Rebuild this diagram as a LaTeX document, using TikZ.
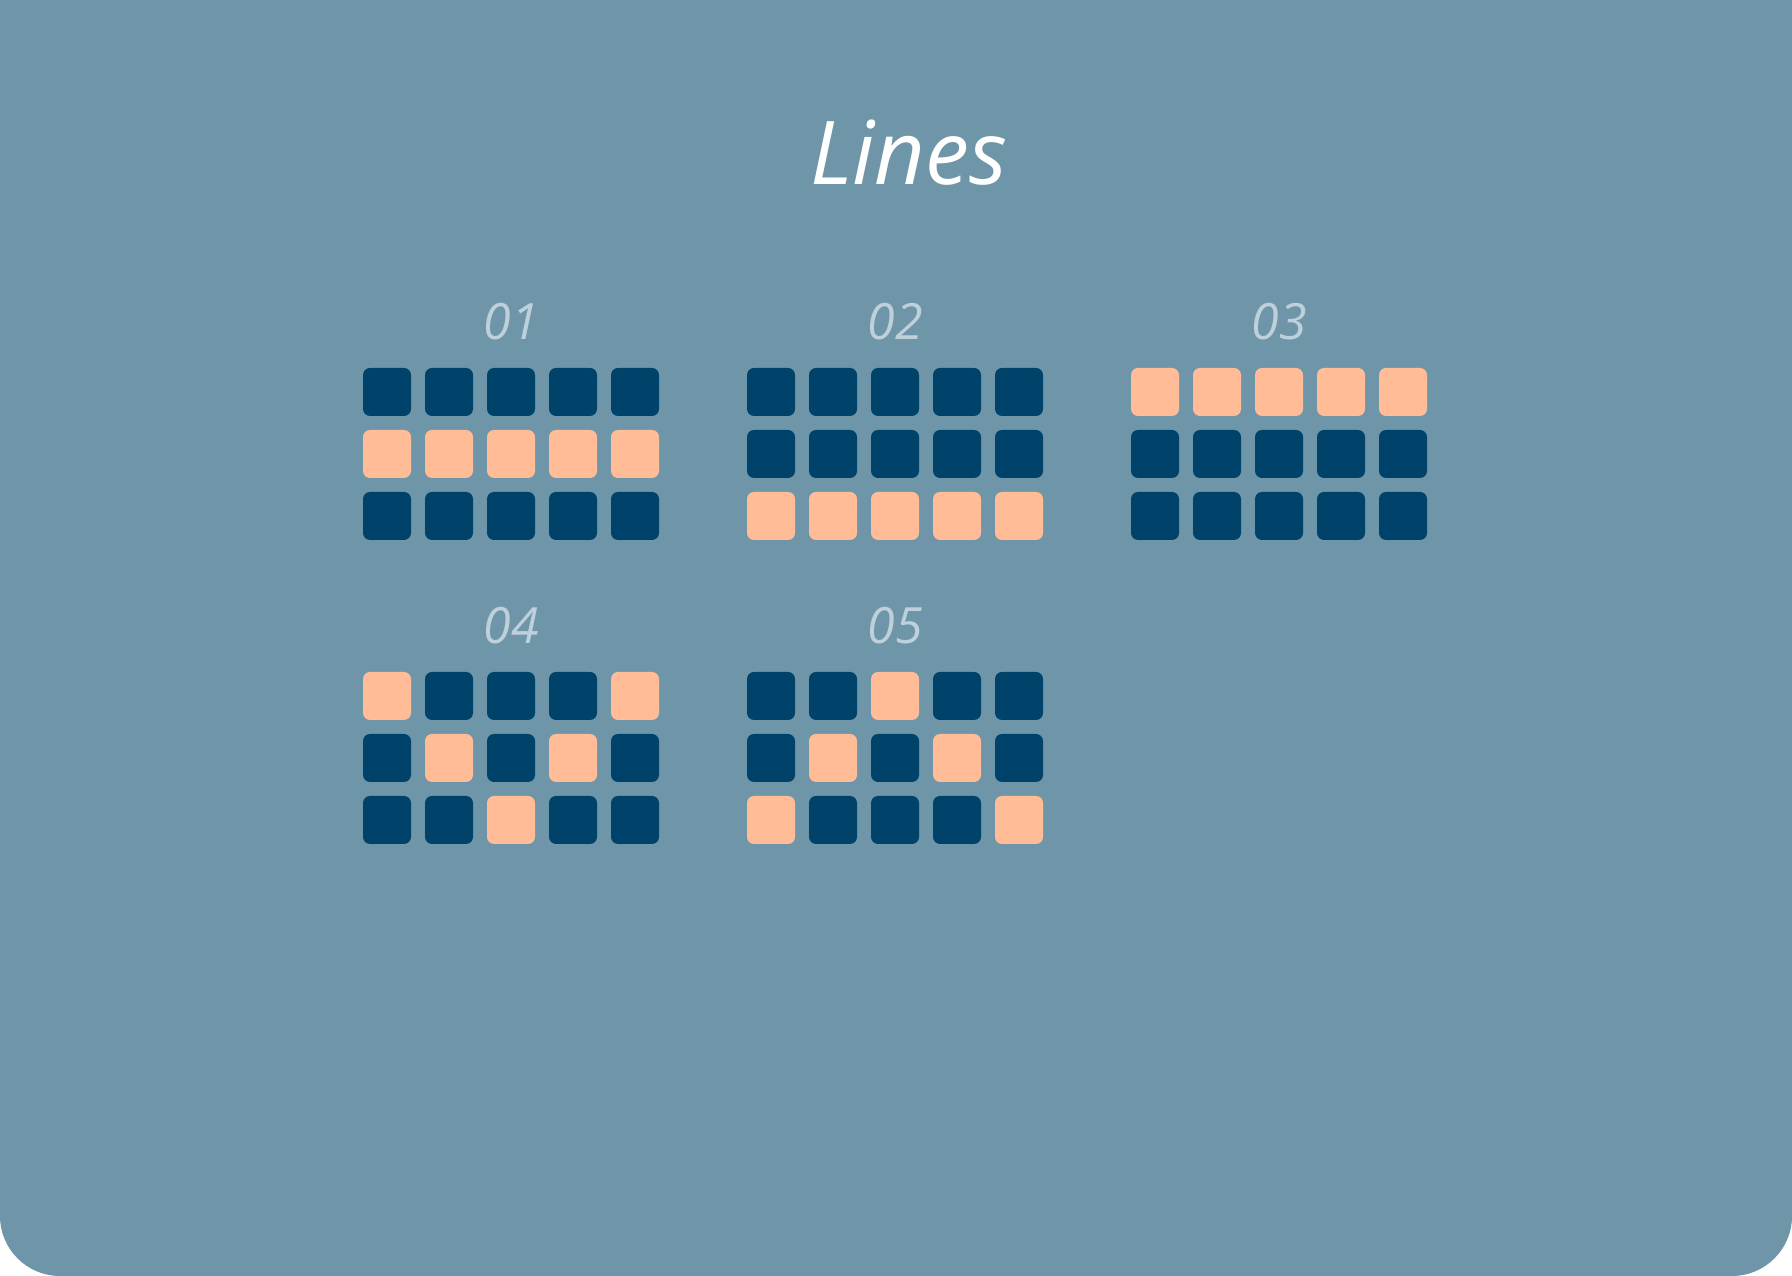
\documentclass[tikz,border=0pt]{standalone}
\usepackage{fontspec}
\setmainfont{Open Sans}
\newfontfamily\titlefont{Open Sans}
\definecolor{bgblue}{HTML}{6F96A8}
\definecolor{darkcell}{HTML}{00436A}
\definecolor{peachcell}{HTML}{FFBC96}
\definecolor{labelcol}{HTML}{BDD0DC}
\tikzset{
  cellbox/.style={rectangle, minimum size=48pt, inner sep=0pt, rounded corners=7pt},
  dk/.style={cellbox, fill=darkcell},
  pk/.style={cellbox, fill=peachcell},
  grouplabel/.style={text=labelcol, font=\fontsize{50}{60}\selectfont\itshape, inner sep=0pt},
  titletext/.style={text=white, font=\titlefont\fontsize{88}{100}\selectfont\itshape, inner sep=0pt}
}
\begin{document}
\begin{tikzpicture}[x=1pt,y=1pt]
\useasboundingbox (0,0) rectangle (1792,1276);
\fill[bgblue] (0,1276) -- (0,60) arc[start angle=180,end angle=270,radius=60] -- (1732,0) arc[start angle=270,end angle=360,radius=60] -- (1792,1276) -- cycle;
\node[titletext] (title) at (909,1276-153) {Lines};
\foreach \g/\gx/\gy/\pat in {
  1/363/368/{d,d,d,d,d,p,p,p,p,p,d,d,d,d,d},
  2/747/368/{d,d,d,d,d,d,d,d,d,d,p,p,p,p,p},
  3/1131/368/{p,p,p,p,p,d,d,d,d,d,d,d,d,d,d},
  4/363/672/{p,d,d,d,p,d,p,d,p,d,d,d,p,d,d},
  5/747/672/{d,d,p,d,d,d,p,d,p,d,p,d,d,d,p}}{
  \node[grouplabel] (lab\g) at (\gx+148,1276-\gy+46) {0\g};
  \foreach \k [count=\i from 0] in \pat{
    \pgfmathtruncatemacro{\row}{floor(\i/5)}
    \pgfmathtruncatemacro{\col}{\i-5*\row}
    \node[\k k] (cell\g-\row-\col) at (\gx+24+62*\col,1276-\gy-24-62*\row) {};
  }
}
\end{tikzpicture}
\end{document}
